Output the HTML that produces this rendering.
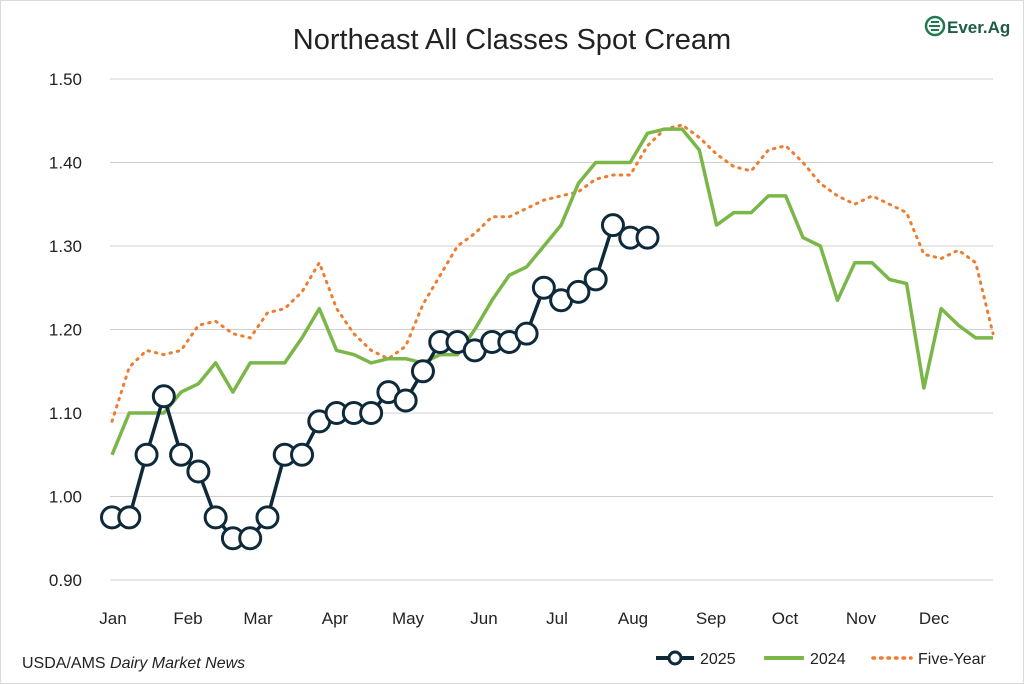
<!DOCTYPE html>
<html><head><meta charset="utf-8"><style>
html,body{margin:0;padding:0;background:#fff;}
svg{display:block;font-family:"Liberation Sans",sans-serif;}
</style></head><body>
<svg id="c" width="1024" height="684" viewBox="0 0 1024 684" xmlns="http://www.w3.org/2000/svg">
<rect x="0" y="0" width="1024" height="684" fill="#fff"/>
<rect x="0.5" y="0.5" width="1023" height="683" fill="none" stroke="#d9d9d9"/>
<text x="512" y="49" text-anchor="middle" font-size="29" fill="#222">Northeast All Classes Spot Cream</text>
<g id="grid"></g>
<g id="series"></g>
<text x="22" y="668" font-size="16" fill="#222">USDA/AMS <tspan font-style="italic">Dairy Market News</tspan></text>
<line x1="656" y1="658" x2="694" y2="658" stroke="#0e2a3a" stroke-width="4"/>
<circle cx="675" cy="658" r="6" fill="#fff" stroke="#0e2a3a" stroke-width="3"/>
<text x="700" y="664" font-size="16" fill="#222">2025</text>
<line x1="764" y1="658" x2="804" y2="658" stroke="#7ab648" stroke-width="4"/>
<text x="810" y="664" font-size="16" fill="#222">2024</text>
<line x1="873" y1="658" x2="911" y2="658" stroke="#ed7d31" stroke-width="3.5" stroke-dasharray="1.5,6" stroke-linecap="round"/>
<text x="918" y="664" font-size="16" fill="#222">Five-Year</text>
<g transform="translate(925,16)">
<circle cx="10" cy="10" r="9" fill="none" stroke="#1f7a4d" stroke-width="2.5"/>
<path d="M4 10 H15 M6 6 H14 M6 14 H14" stroke="#1f7a4d" stroke-width="2"/>
<text x="22" y="17" font-size="17" font-weight="bold" fill="#1f5c45">Ever.Ag</text>
</g>
</svg>
<script>
var NS="http://www.w3.org/2000/svg";
function el(t,a,p){var e=document.createElementNS(NS,t);for(var k in a)e.setAttribute(k,a[k]);p.appendChild(e);return e;}
function Y(v){return 580-(v-0.9)*835;}
var x0=112,dx=(993-112)/51;
function X(i){return x0+i*dx;}
var g=document.getElementById("grid");
var labs=["0.90","1.00","1.10","1.20","1.30","1.40","1.50"];
for(var i=0;i<7;i++){var y=Y(0.9+i*0.1);el("line",{x1:110,x2:993,y1:y,y2:y,stroke:"#d0d0d0","stroke-width":1},g);
var t=el("text",{x:82,y:y+6,"text-anchor":"end","font-size":17,fill:"#222"},g);t.textContent=labs[i];}
var m=["Jan","Feb","Mar","Apr","May","Jun","Jul","Aug","Sep","Oct","Nov","Dec"],mx=[113,188,258,335,408,484,557,633,711,785,861,934];
for(var i=0;i<12;i++){var t=el("text",{x:mx[i],y:624,"text-anchor":"middle","font-size":17,fill:"#222"},g);t.textContent=m[i];}
var s=document.getElementById("series");
var five=[1.09,1.155,1.175,1.17,1.175,1.205,1.21,1.195,1.19,1.22,1.225,1.245,1.28,1.225,1.195,1.175,1.165,1.18,1.23,1.265,1.30,1.315,1.335,1.335,1.345,1.355,1.36,1.365,1.38,1.385,1.385,1.42,1.44,1.445,1.43,1.41,1.395,1.39,1.415,1.42,1.40,1.375,1.36,1.35,1.36,1.35,1.34,1.29,1.285,1.295,1.28,1.195];
var y24=[1.05,1.10,1.10,1.10,1.125,1.135,1.16,1.125,1.16,1.16,1.16,1.19,1.225,1.175,1.17,1.16,1.165,1.165,1.16,1.17,1.17,1.20,1.235,1.265,1.275,1.30,1.325,1.375,1.40,1.40,1.40,1.435,1.44,1.44,1.415,1.325,1.34,1.34,1.36,1.36,1.31,1.30,1.235,1.28,1.28,1.26,1.255,1.13,1.225,1.205,1.19,1.19];
var y25=[0.975,0.975,1.05,1.12,1.05,1.03,0.975,0.95,0.95,0.975,1.05,1.05,1.09,1.10,1.10,1.10,1.125,1.115,1.15,1.185,1.185,1.175,1.185,1.185,1.195,1.25,1.235,1.245,1.26,1.325,1.31,1.31];
function pts(a){return a.map(function(v,i){return X(i).toFixed(1)+","+Y(v).toFixed(1);}).join(" ");}
el("polyline",{points:pts(five),fill:"none",stroke:"#ed7d31","stroke-width":3,"stroke-dasharray":"1.5,6","stroke-linecap":"round"},s);
el("polyline",{points:pts(y24),fill:"none",stroke:"#7ab648","stroke-width":3.5,"stroke-linejoin":"round"},s);
el("polyline",{points:pts(y25),fill:"none",stroke:"#0e2a3a","stroke-width":3.5},s);
y25.forEach(function(v,i){el("circle",{cx:X(i),cy:Y(v),r:10.5,fill:"#fff",stroke:"#0e2a3a","stroke-width":3},s);});
</script>
</body></html>
